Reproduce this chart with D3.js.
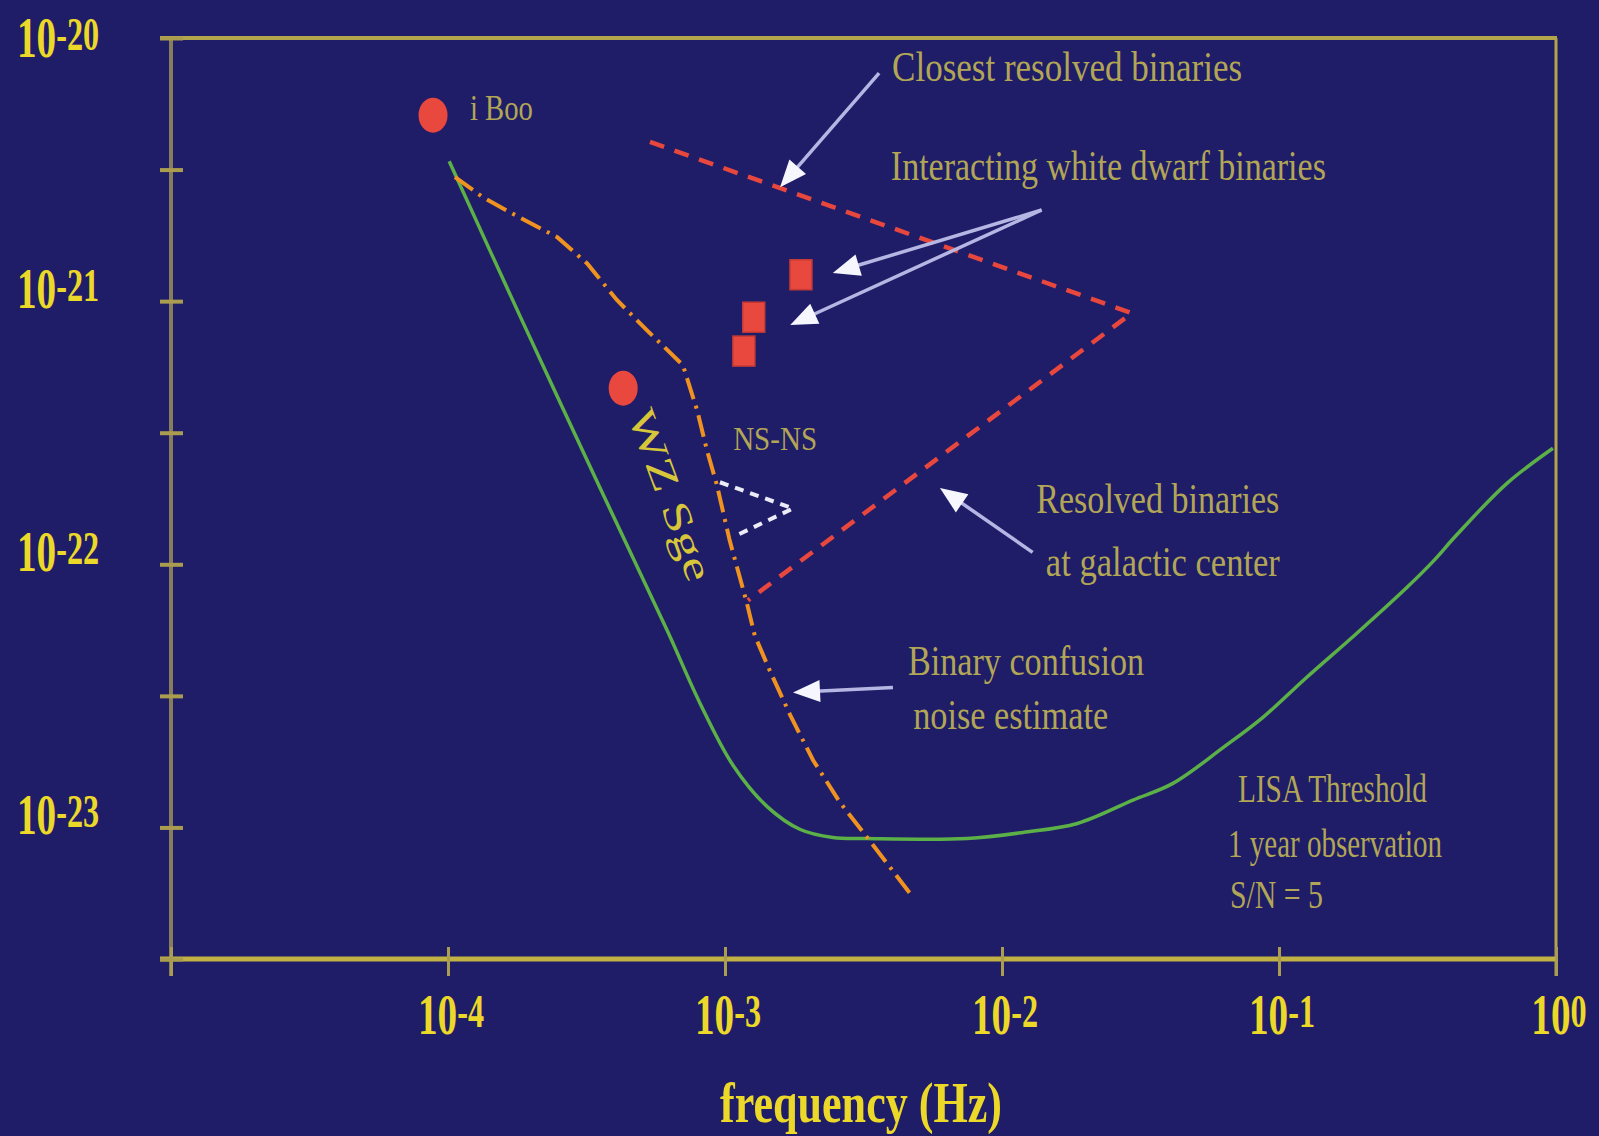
<!DOCTYPE html>
<html><head><meta charset="utf-8">
<script src="https://cdn.jsdelivr.net/npm/d3@7"></script>
<style>
html,body{margin:0;padding:0;background:#1f1d67;overflow:hidden}
svg{display:block}
</style>
</head><body>
<svg id="chart" width="1599" height="1136"></svg>
<script>
// ---------------- data ----------------
// LISA sensitivity threshold (1 yr, S/N = 5)
const lisaFreq   = [1.01e-4,1.82e-4,3.54e-4,6.18e-4,8.13e-4,1.07e-3,1.42e-3,1.87e-3,2.45e-3,3.26e-3,7.48e-3,1.19e-2,1.87e-2,2.97e-2,4.14e-2,6.28e-2,8.75e-2,0.126,0.191,0.290,0.360,0.440,0.665,0.975];
const lisaStrain = [3.40e-21,8.77e-22,1.95e-22,5.61e-23,2.96e-23,1.72e-23,1.20e-23,9.82e-24,9.16e-24,9.08e-24,9.08e-24,9.57e-24,1.035e-23,1.27e-23,1.47e-23,2.01e-23,2.62e-23,3.72e-23,5.47e-23,8.18e-23,1.026e-22,1.30e-22,2.03e-22,2.76e-22];

// Binary confusion noise estimate
const confusionFreq   = [1.06e-4,1.34e-4,1.67e-4,2.48e-4,3.18e-4,4.07e-4,5.22e-4,7.05e-4,7.93e-4,8.61e-4,9.35e-4,1.04e-3,1.20e-3,1.28e-3,1.45e-3,1.72e-3,2.08e-3,2.60e-3,3.26e-3,4.66e-3];
const confusionStrain = [2.96e-21,2.48e-21,2.18e-21,1.75e-21,1.39e-21,1.01e-21,7.76e-22,5.71e-22,3.85e-22,2.71e-22,2.0e-22,1.23e-22,7.11e-23,5.37e-23,3.95e-23,2.67e-23,1.80e-23,1.245e-23,9.16e-24,5.61e-24];

// Resolved binaries (closest / galactic center) boundary
const resolvedFreq   = [5.36e-4, 2.94e-2, 1.21e-3];
const resolvedStrain = [4.03e-21, 9.0e-22, 7.29e-23];

// NS-NS region
const nsFreq   = [9.59e-4, 1.76e-3, 1.07e-3];
const nsStrain = [2.05e-22, 1.63e-22, 1.27e-22];

// Known sources (circles)
const sourceNames  = ["i Boo", "WZ Sge"];
const sourceFreq   = [8.83e-5, 4.29e-4];
const sourceStrain = [5.09e-21, 4.67e-22];

// Interacting white dwarf binaries (squares)
const wdFreq   = [1.88e-3, 1.27e-3, 1.17e-3];
const wdStrain = [1.26e-21, 8.69e-22, 6.46e-22];

// Axis ticks
const xTickValues = [1e-5, 1e-4, 1e-3, 1e-2, 1e-1, 1];
const xLabelValues = [1e-4, 1e-3, 1e-2, 1e-1, 1];
const xLabelExps   = ["-4", "-3", "-2", "-1", "0"];
const yTickValues = [1e-20, 3.162e-21, 1e-21, 3.162e-22, 1e-22, 3.162e-23, 1e-23, 3.162e-24];
const yLabelValues = [1e-20, 1e-21, 1e-22, 1e-23];
const yLabelExps   = ["-20", "-21", "-22", "-23"];
const xTitle = "frequency (Hz)";

// Annotation texts anchored in data space
const noteTexts  = ["Closest resolved  binaries","Interacting white dwarf binaries","Resolved binaries","at galactic center","Binary confusion","noise estimate","LISA Threshold","1 year observation","S/N = 5","NS-NS"];
const noteFreq   = [4.01e-3, 3.97e-3, 1.33e-2, 1.44e-2, 4.58e-3, 4.78e-3, 7.11e-2, 6.55e-2, 6.65e-2, 1.07e-3];
const noteStrain = [6.86e-21, 2.88e-21, 1.56e-22, 9.0e-23, 3.78e-23, 2.36e-23, 1.245e-23, 7.69e-24, 4.92e-24, 2.71e-22];
const sourceLabelFreq   = [1.20e-4, 4.93e-4];
const sourceLabelStrain = [4.88e-21, 3.85e-22];

// Annotation arrows (tail -> tip)
const arrowFromFreq   = [3.60e-3, 1.39e-2, 1.39e-2, 1.29e-2, 4.04e-3];
const arrowFromStrain = [7.36e-21, 2.22e-21, 2.22e-21, 1.11e-22, 3.40e-23];
const arrowToFreq     = [1.58e-3, 2.45e-3, 1.72e-3, 5.97e-3, 1.76e-3];
const arrowToStrain   = [2.71e-21, 1.28e-21, 8.11e-22, 1.95e-22, 3.26e-23];

// ---------------- layout / style ----------------
const W = 1599, H = 1136;
const plot = {left: 171, right: 1556, top: 38, bottom: 959};
const noteStyle = [ // font size, text length
  [42, 350],[42, 435],[42, 243],[42, 234],[42, 236],[42, 195],[39, 189],[39, 214],[39, 93],[34, 84]
];
const sourceLabelStyle = [[36, 63, 0],[39, 180, 70]]; // size, length, rotation
const C = {
  bg: "#1f1d67", frame: "#b3a54c", frameLeft: "#877d5a", tick: "#ab9d50",
  tickLabel: "#ecd829", note: "#b2a656", wz: "#d8c63a",
  lisa: "#5cb048", confusion: "#f0921f", resolved: "#e8473d", ns: "#ececf8",
  source: "#e8483e", arrowShaft: "#b6b6e4", arrowHead: "#f6f6ff"
};

const svg = d3.select("#chart");
svg.append("rect").attr("width", W).attr("height", H).attr("fill", C.bg);

const x = d3.scaleLog().domain([1e-5, 1]).range([plot.left, plot.right]);
const y = d3.scaleLog().domain([Math.pow(10, -23.5), 1e-20]).range([plot.bottom, plot.top]);

// ---------------- frame & axes ----------------
const frame = svg.append("g");
frame.append("line").attr("x1", plot.left).attr("x2", plot.left).attr("y1", plot.top).attr("y2", plot.bottom + 17)
  .attr("stroke", C.frameLeft).attr("stroke-width", 4);
frame.append("line").attr("x1", plot.right).attr("x2", plot.right).attr("y1", plot.top).attr("y2", plot.bottom + 17)
  .attr("stroke", C.frame).attr("stroke-width", 3);
frame.append("line").attr("x1", plot.left - 11).attr("x2", plot.right + 1).attr("y1", plot.top).attr("y2", plot.top)
  .attr("stroke", C.frame).attr("stroke-width", 4);

// x ticks (d3 axis, through both sides of the baseline)
const xAxisG = svg.append("g").attr("transform", `translate(0,${plot.bottom - 12})`)
  .call(d3.axisBottom(x).tickValues(xTickValues).tickSize(29).tickFormat(""));
xAxisG.select(".domain").remove();
xAxisG.selectAll(".tick line").attr("stroke", C.tick).attr("stroke-width", 3);

const yAxisG = svg.append("g").attr("transform", `translate(${plot.left + 12},0)`)
  .call(d3.axisLeft(y).tickValues(yTickValues).tickSize(23).tickFormat(""));
yAxisG.select(".domain").remove();
yAxisG.selectAll(".tick line").attr("stroke", C.tick).attr("stroke-width", 4);

frame.append("line").attr("x1", plot.left - 11).attr("x2", plot.right + 1).attr("y1", plot.bottom).attr("y2", plot.bottom)
  .attr("stroke", "#c2b244").attr("stroke-width", 5);

// tick labels: 10 with superscript exponent
function powLabel(g, px, py, exp, anchor) {
  const t = g.append("text")
    .attr("transform", `translate(${px},${py}) scale(0.7,1)`)
    .attr("text-anchor", anchor)
    .attr("font-family", "'Liberation Serif','DejaVu Serif',serif")
    .attr("font-weight", "bold")
    .attr("fill", C.tickLabel);
  t.append("tspan").attr("font-size", 56).text("10");
  t.append("tspan").attr("font-size", 46).attr("dy", -7).text(exp);
}
const labG = svg.append("g");
xLabelValues.forEach((v, i) => powLabel(labG, x(v) + 3, 1034, xLabelExps[i], "middle"));
yLabelValues.forEach((v, i) => powLabel(labG, 17, Math.max(y(v) + 7, 57), yLabelExps[i], "start"));

svg.append("text").attr("x", 720).attr("y", 1122)
  .attr("font-family", "'Liberation Serif','DejaVu Serif',serif").attr("font-weight", "bold")
  .attr("font-size", 58).attr("fill", C.tickLabel)
  .attr("textLength", 282).attr("lengthAdjust", "spacingAndGlyphs")
  .text(xTitle);

// ---------------- curves ----------------
const zip = (a, b) => a.map((v, i) => [v, b[i]]);
const lineOf = curve => d3.line().x(d => x(d[0])).y(d => y(d[1])).curve(curve);

svg.append("path").datum(zip(lisaFreq, lisaStrain))
  .attr("d", lineOf(d3.curveCatmullRom.alpha(0.5))).attr("fill", "none")
  .attr("stroke", C.lisa).attr("stroke-width", 3.5);

svg.append("path").datum(zip(confusionFreq, confusionStrain))
  .attr("d", lineOf(d3.curveLinear)).attr("fill", "none")
  .attr("stroke", C.confusion).attr("stroke-width", 4)
  .attr("stroke-dasharray", "22,7,3,7");

svg.append("path").datum(zip(resolvedFreq, resolvedStrain))
  .attr("d", lineOf(d3.curveLinear)).attr("fill", "none")
  .attr("stroke", C.resolved).attr("stroke-width", 4.5)
  .attr("stroke-dasharray", "15,11");

svg.append("path").datum(zip(nsFreq, nsStrain))
  .attr("d", lineOf(d3.curveLinear)).attr("fill", "none")
  .attr("stroke", C.ns).attr("stroke-width", 4)
  .attr("stroke-dasharray", "9,7");

// ---------------- markers ----------------
svg.append("g").selectAll("ellipse").data(zip(sourceFreq, sourceStrain)).join("ellipse")
  .attr("cx", d => x(d[0])).attr("cy", d => y(d[1]))
  .attr("rx", 14.5).attr("ry", 17.5).attr("fill", C.source);

svg.append("g").selectAll("rect").data(zip(wdFreq, wdStrain)).join("rect")
  .attr("x", d => x(d[0]) - 11).attr("y", d => y(d[1]) - 15)
  .attr("width", 22).attr("height", 30).attr("fill", C.source)
  .attr("stroke", "#c43a35").attr("stroke-width", 1.5);

// ---------------- arrows ----------------
const arrG = svg.append("g");
arrowFromFreq.forEach((f, i) => {
  const x0 = x(f), y0 = y(arrowFromStrain[i]);
  const x1 = x(arrowToFreq[i]), y1 = y(arrowToStrain[i]);
  const dx = x1 - x0, dy = y1 - y0, len = Math.hypot(dx, dy);
  const ux = dx / len, uy = dy / len, L = 27, Wd = 11;
  const bx = x1 - ux * L, by = y1 - uy * L;
  arrG.append("line").attr("x1", x0).attr("y1", y0).attr("x2", bx + ux * 4).attr("y2", by + uy * 4)
    .attr("stroke", C.arrowShaft).attr("stroke-width", 3.5);
  arrG.append("polygon")
    .attr("points", [[x1, y1], [bx - uy * Wd, by + ux * Wd], [bx + uy * Wd, by - ux * Wd]].map(p => p.join(",")).join(" "))
    .attr("fill", C.arrowHead);
});

// ---------------- text annotations ----------------
const noteG = svg.append("g").attr("font-family", "'Liberation Serif','DejaVu Serif',serif");
noteTexts.forEach((t, i) => {
  noteG.append("text").attr("x", x(noteFreq[i])).attr("y", y(noteStrain[i]))
    .attr("font-size", noteStyle[i][0]).attr("fill", C.note)
    .attr("textLength", noteStyle[i][1]).attr("lengthAdjust", "spacingAndGlyphs")
    .text(t);
});
sourceNames.forEach((t, i) => {
  const px = x(sourceLabelFreq[i]), py = y(sourceLabelStrain[i]);
  const st = sourceLabelStyle[i];
  const el = noteG.append("text")
    .attr("font-size", st[0]).attr("fill", i === 0 ? C.note : C.wz)
    .attr("textLength", st[1]).attr("lengthAdjust", "spacingAndGlyphs")
    .text(t);
  if (st[2]) {
    el.attr("x", 0).attr("y", 0).attr("dominant-baseline", "central")
      .attr("transform", `translate(${px},${py}) rotate(${st[2]})`);
  } else {
    el.attr("x", px).attr("y", py);
  }
});
</script>
</body></html>
